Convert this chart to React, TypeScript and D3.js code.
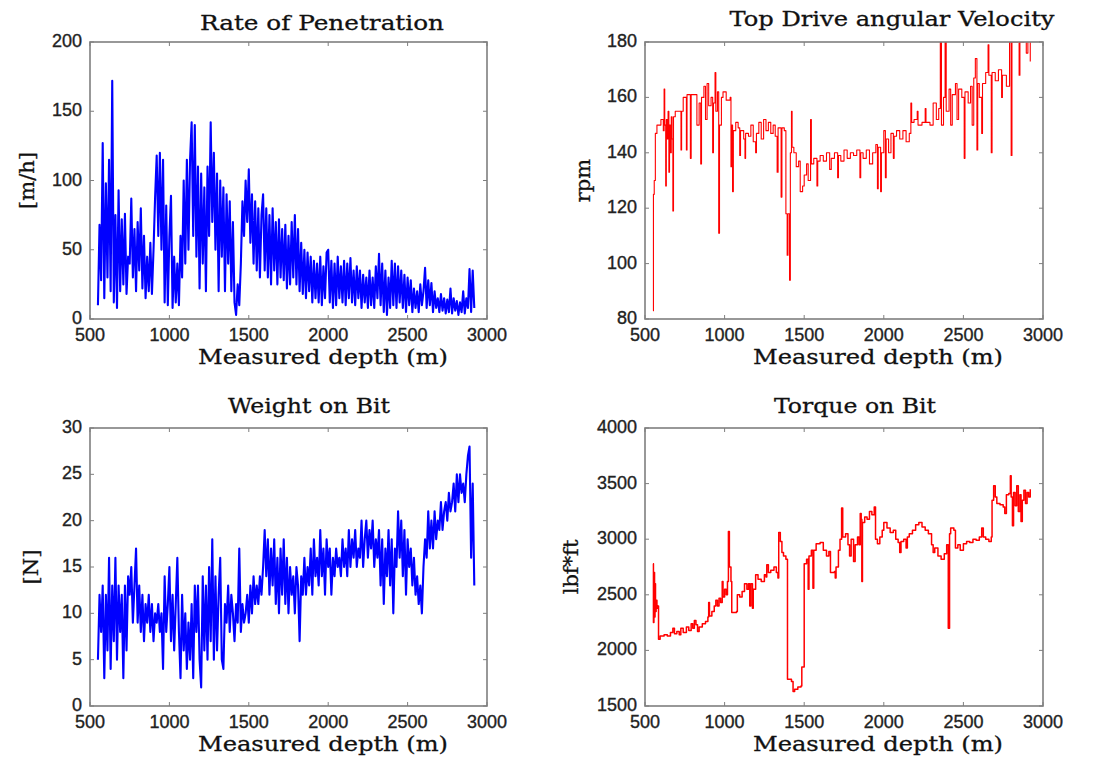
import React from 'react';
import * as d3 from 'd3';

const DEPTH_START = 550;
const DEPTH_STEP = 10;

// Rate of penetration [m/h], one value every 10 m from 550 m
const ropValues = [
  10, 68, 28, 127, 15, 98, 30, 115, 20, 172,
  12, 75, 8, 93, 20, 72, 25, 76, 18, 45,
  40, 87, 30, 65, 20, 70, 35, 80, 22, 60,
  15, 45, 20, 55, 18, 50, 88, 118, 60, 120,
  50, 115, 12, 82, 10, 60, 89, 8, 45, 12,
  40, 10, 60, 30, 100, 40, 115, 50, 115, 142,
  60, 140, 45, 110, 22, 105, 40, 95, 20, 110,
  60, 142, 70, 120, 50, 105, 20, 100, 45, 95,
  20, 90, 40, 85, 20, 70, 12, 3, 25, 10,
  40, 85, 60, 100, 70, 108, 55, 90, 40, 85,
  35, 80, 30, 75, 90, 35, 80, 30, 75, 25,
  80, 35, 70, 25, 72, 30, 65, 28, 68, 22,
  60, 25, 70, 30, 75, 25, 65, 20, 55, 18,
  50, 15, 48, 20, 45, 12, 42, 15, 40, 12,
  45, 10, 38, 15, 48, 50, 12, 42, 8, 40,
  10, 45, 15, 38, 12, 42, 10, 40, 15, 44,
  12, 35, 10, 38, 15, 35, 8, 32, 12, 30,
  8, 35, 10, 30, 8, 38, 15, 47, 10, 40,
  5, 35, 3, 30, 8, 42, 10, 40, 8, 38,
  12, 35, 8, 32, 5, 30, 10, 28, 5, 22,
  8, 20, 5, 25, 10, 20, 37, 8, 28, 10,
  26, 5, 20, 8, 15, 5, 18, 6, 15, 4,
  14, 5, 22, 4, 15, 6, 13, 3, 12, 5,
  20, 4, 15, 8, 36, 5, 35, 8,
];

// Weight on bit [N], one value every 10 m from 550 m
const wobValues = [
  5, 12, 8, 13, 3, 12, 6, 16, 4, 13,
  7, 16, 5, 13, 8, 12, 3, 13, 6, 14,
  12, 15, 9, 13, 17, 9, 13, 8, 12, 7,
  11, 9, 12, 8, 11, 7, 10, 9, 11, 8,
  10, 4, 14, 8, 11, 15, 7, 12, 6, 11,
  16, 8, 3, 12, 6, 10, 4, 9, 5, 11,
  3, 13, 8, 13, 5, 2, 14, 6, 13, 5,
  15, 7, 18, 5, 14, 6, 12, 16, 5, 4,
  11, 9, 13, 8, 12, 10, 7, 11, 9, 17,
  8, 11, 9, 10, 12, 9, 13, 10, 14, 11,
  13, 11, 14, 12, 15, 19, 14, 18, 12, 17,
  13, 18, 11, 16, 10, 17, 12, 18, 11, 16,
  10, 15, 12, 14, 10, 15, 13, 7, 14, 12,
  16, 12, 15, 13, 17, 12, 18, 14, 16, 13,
  19, 14, 17, 12, 18, 15, 17, 12, 16, 14,
  17, 15, 16, 14, 18, 15, 17, 14, 19, 15,
  18, 16, 19, 15, 17, 16, 20, 15, 18, 20,
  16, 19, 17, 20, 15, 18, 16, 19, 13, 18,
  11, 17, 14, 19, 13, 18, 10, 17, 15, 21,
  16, 20, 14, 19, 12, 18, 15, 17, 13, 16,
  12, 14, 11, 13, 10, 15, 18, 16, 21, 17,
  20, 17, 21, 18, 20, 19, 22, 19, 21, 22,
  20, 23, 21, 22, 24, 21, 25, 22, 25, 23,
  24, 22, 25, 27, 28, 16, 24, 13,
];

// Top drive angular velocity [rpm], [depth, value] steps
const rpmPoints: [number, number][] = [
  [550, 83], [553, 125], [558, 130], [565, 147], [575, 150], [600, 152], [615, 148], [620, 163],
  [624, 150], [630, 128], [634, 152], [640, 145], [645, 155], [650, 133], [654, 150], [660, 140],
  [665, 153], [670, 145], [675, 119], [679, 153], [690, 155], [720, 155], [726, 141], [730, 155],
  [740, 160], [760, 141], [764, 161], [785, 138], [790, 161], [820, 161], [826, 150], [840, 158],
  [850, 136], [855, 160], [870, 164], [880, 152], [890, 165], [900, 157], [915, 160], [925, 140],
  [930, 158], [940, 169], [945, 155], [955, 162], [963, 111], [968, 150], [980, 160], [990, 162],
  [1010, 159], [1035, 160], [1040, 135], [1045, 150], [1050, 126], [1055, 148], [1070, 151],
  [1085, 149], [1095, 139], [1100, 148], [1120, 145], [1128, 138], [1132, 147], [1150, 146],
  [1165, 150], [1180, 144], [1195, 140], [1200, 147], [1215, 151], [1230, 145], [1245, 152],
  [1260, 148], [1275, 151], [1290, 147], [1305, 150], [1318, 146], [1330, 133], [1336, 149],
  [1355, 124], [1360, 149], [1375, 148], [1385, 118], [1393, 103], [1398, 118], [1408, 94],
  [1413, 140], [1420, 155], [1424, 142], [1435, 140], [1450, 135], [1465, 137], [1475, 126],
  [1490, 128], [1500, 132], [1515, 136], [1525, 130], [1540, 152], [1545, 136], [1560, 138],
  [1580, 128], [1585, 137], [1600, 139], [1620, 137], [1640, 140], [1660, 134], [1670, 138],
  [1690, 140], [1710, 131], [1715, 139], [1730, 137], [1750, 141], [1770, 138], [1790, 140],
  [1810, 139], [1830, 141], [1850, 131], [1855, 140], [1870, 138], [1890, 141], [1910, 136],
  [1930, 140], [1950, 143], [1960, 127], [1965, 142], [1980, 126], [1985, 140], [2000, 148],
  [2010, 131], [2015, 145], [2030, 140], [2045, 147], [2060, 138], [2065, 146], [2080, 148],
  [2100, 145], [2120, 148], [2140, 144], [2160, 147], [2170, 158], [2175, 151], [2190, 152],
  [2210, 155], [2215, 150], [2240, 151], [2260, 156], [2265, 151], [2290, 150], [2310, 158],
  [2330, 152], [2345, 156], [2355, 180], [2362, 150], [2375, 160], [2385, 180], [2392, 155],
  [2410, 163], [2420, 150], [2430, 161], [2450, 165], [2460, 152], [2470, 163], [2490, 160],
  [2505, 138], [2510, 162], [2530, 158], [2545, 164], [2555, 150], [2565, 167], [2575, 174],
  [2585, 141], [2590, 165], [2600, 160], [2615, 147], [2620, 165], [2640, 169], [2655, 179],
  [2660, 168], [2675, 140], [2680, 169], [2700, 166], [2720, 170], [2740, 160], [2745, 168],
  [2770, 164], [2790, 180], [2800, 139], [2805, 180], [2840, 182], [2850, 168], [2855, 180],
  [2880, 185], [2895, 176], [2905, 182], [2920, 173],
];

// Torque on bit [lbf*ft], [depth, value] steps
const torquePoints: [number, number][] = [
  [550, 2780], [553, 2250], [556, 2700], [560, 2300], [563, 2600], [566, 2350], [570, 2450],
  [575, 2380], [580, 2400], [585, 2100], [595, 2130], [620, 2140], [640, 2130], [660, 2160],
  [675, 2200], [685, 2150], [700, 2170], [715, 2140], [725, 2200], [740, 2160], [760, 2210],
  [775, 2180], [790, 2240], [800, 2200], [810, 2270], [820, 2230], [830, 2170], [840, 2210],
  [860, 2240], [880, 2260], [895, 2300], [900, 2430], [905, 2310], [920, 2350], [935, 2400],
  [945, 2450], [955, 2400], [965, 2470], [975, 2430], [985, 2620], [990, 2480], [1000, 2550],
  [1010, 2500], [1018, 2620], [1024, 3070], [1030, 2750], [1040, 2620], [1045, 2340], [1075, 2350],
  [1080, 2500], [1095, 2480], [1110, 2530], [1125, 2600], [1140, 2550], [1150, 2600], [1158, 2400],
  [1165, 2600], [1175, 2380], [1180, 2550], [1195, 2680], [1210, 2640], [1230, 2620], [1250, 2680],
  [1260, 2660], [1265, 2770], [1275, 2700], [1290, 2720], [1310, 2750], [1325, 2700], [1335, 2650],
  [1340, 3060], [1350, 2980], [1360, 2880], [1370, 2850], [1385, 2820], [1395, 1740], [1420, 1720],
  [1430, 1630], [1440, 1650], [1460, 1670], [1480, 1680], [1485, 1850], [1500, 2780], [1515, 2820],
  [1525, 2550], [1530, 2850], [1545, 2900], [1555, 2560], [1560, 2900], [1575, 2960], [1600, 2970],
  [1620, 2900], [1640, 2850], [1655, 2890], [1665, 2700], [1690, 2710], [1695, 2650], [1700, 2750],
  [1715, 2900], [1725, 3000], [1735, 3280], [1742, 3020], [1760, 3050], [1775, 2950], [1785, 2850],
  [1795, 3000], [1810, 2800], [1820, 2950], [1835, 3020], [1845, 2950], [1852, 3230], [1858, 3180],
  [1862, 2620], [1866, 3150], [1880, 3200], [1895, 3180], [1910, 3250], [1925, 3220], [1940, 3290],
  [1948, 3000], [1960, 2960], [1975, 3020], [1990, 3080], [2000, 3150], [2020, 3100], [2040, 3060],
  [2060, 3080], [2075, 3000], [2090, 2970], [2100, 2880], [2108, 2980], [2125, 3000], [2140, 2920],
  [2148, 3020], [2160, 3050], [2180, 3080], [2200, 3130], [2220, 3150], [2240, 3110], [2260, 3080],
  [2280, 3050], [2300, 2950], [2310, 2880], [2320, 2920], [2340, 2850], [2360, 2820], [2380, 2870],
  [2395, 2950], [2405, 2200], [2413, 3050], [2420, 3100], [2440, 3080], [2450, 2920], [2465, 2950],
  [2480, 2900], [2500, 2960], [2520, 2980], [2540, 2970], [2560, 3000], [2580, 2990], [2600, 3020],
  [2615, 3100], [2625, 3020], [2640, 3000], [2660, 2980], [2675, 3020], [2680, 3350], [2690, 3480],
  [2700, 3380], [2710, 3320], [2730, 3310], [2750, 3290], [2760, 3230], [2770, 3400], [2785, 3410],
  [2795, 3570], [2800, 3380], [2808, 3120], [2815, 3420], [2825, 3300], [2835, 3480], [2845, 3250],
  [2855, 3400], [2862, 3160], [2870, 3350], [2880, 3440], [2890, 3320], [2900, 3420], [2910, 3380],
  [2920, 3450],
];

const depthTicks = [500, 1000, 1500, 2000, 2500, 3000];
const ropTicks = [0, 50, 100, 150, 200];
const rpmTicks = [80, 100, 120, 140, 160, 180];
const wobTicks = [0, 5, 10, 15, 20, 25, 30];
const torqueTicks = [1500, 2000, 2500, 3000, 3500, 4000];

const sampled = (vals: number[]): [number, number][] =>
  vals.map((v, i) => [DEPTH_START + i * DEPTH_STEP, v]);

const SERIF = '"DejaVu Serif", "Liberation Serif", serif';
const SANS = '"Liberation Sans", Arial, sans-serif';
const AXIS = '#7f7f7f';

type PanelProps = {
  id: string;
  x0: number; x1: number; y0: number; y1: number;
  yDomain: [number, number];
  yTicks: number[];
  points: [number, number][];
  color: string;
  lineWidth: number;
  step: boolean;
  title: string;
  titleX: number; titleDy: number; titleW: number;
  xlabelX: number;
  ylabel: string;
  ylabelX: number;
};

function Panel(p: PanelProps) {
  const x = d3.scaleLinear().domain([500, 3000]).range([p.x0, p.x1]);
  const y = d3.scaleLinear().domain(p.yDomain).range([p.y1, p.y0]);
  const line = d3.line<[number, number]>()
    .x(d => x(d[0]))
    .y(d => y(d[1]))
    .curve(p.step ? d3.curveStepAfter : d3.curveLinear);
  const cy = (p.y0 + p.y1) / 2;
  const tl = 4;

  return (
    <g>
      <defs>
        <clipPath id={p.id}>
          <rect x={p.x0} y={p.y0} width={p.x1 - p.x0} height={p.y1 - p.y0} />
        </clipPath>
      </defs>
      <path d={line(p.points) || ''} fill="none" stroke={p.color} strokeWidth={p.lineWidth}
        strokeLinejoin="round" clipPath={`url(#${p.id})`} />
      <rect x={p.x0} y={p.y0} width={p.x1 - p.x0} height={p.y1 - p.y0}
        fill="none" stroke={AXIS} strokeWidth={1.6} />
      {depthTicks.map(t => (
        <g key={'x' + t}>
          <line x1={x(t)} x2={x(t)} y1={p.y1} y2={p.y1 - tl} stroke={AXIS} />
          <line x1={x(t)} x2={x(t)} y1={p.y0} y2={p.y0 + tl} stroke={AXIS} />
          <text x={x(t)} y={p.y1 + 22} textAnchor="middle" fontFamily={SANS} fontSize={18}
            fill="#222" stroke="#222" strokeWidth={0.35}>{t}</text>
        </g>
      ))}
      {p.yTicks.map(t => (
        <g key={'y' + t}>
          <line x1={p.x0} x2={p.x0 + tl} y1={y(t)} y2={y(t)} stroke={AXIS} />
          <line x1={p.x1} x2={p.x1 - tl} y1={y(t)} y2={y(t)} stroke={AXIS} />
          <text x={p.x0 - 8} y={y(t) + 5} textAnchor="end" fontFamily={SANS} fontSize={18}
            fill="#222" stroke="#222" strokeWidth={0.35}>{t}</text>
        </g>
      ))}
      <text x={p.titleX} y={p.y0 + p.titleDy} textAnchor="middle" fontFamily={SERIF} fontSize={21}
        fill="#111" stroke="#111" strokeWidth={0.3}
        textLength={p.titleW} lengthAdjust="spacingAndGlyphs">{p.title}</text>
      <text x={p.xlabelX} y={p.y1 + 45} textAnchor="middle" fontFamily={SERIF} fontSize={21}
        fill="#111" stroke="#111" strokeWidth={0.3}
        textLength={250} lengthAdjust="spacingAndGlyphs">Measured depth (m)</text>
      <text transform={`translate(${p.ylabelX},${cy}) rotate(-90)`} textAnchor="middle"
        fontFamily={SERIF} fontSize={21} fill="#111" stroke="#111" strokeWidth={0.3}>{p.ylabel}</text>
    </g>
  );
}

export default function App() {
  const L = [90, 487];
  const R = [645, 1043];
  const T = [42, 319];
  const B = [428, 706];
  return (
    <svg width={1098} height={759} style={{ position: 'absolute', left: 0, top: 0, background: '#fff' }}>
      <Panel id="c1" x0={L[0]} x1={L[1]} y0={T[0]} y1={T[1]} yDomain={[0, 200]} yTicks={ropTicks}
        points={sampled(ropValues)} color="#0000ff" lineWidth={2.1} step={false}
        title="Rate of Penetration" titleX={322} titleDy={-12} titleW={244} xlabelX={323}
        ylabel="[m/h]" ylabelX={34} />
      <Panel id="c2" x0={R[0]} x1={R[1]} y0={T[0]} y1={T[1]} yDomain={[80, 180]} yTicks={rpmTicks}
        points={rpmPoints} color="#ff0000" lineWidth={1.1} step={true}
        title="Top Drive angular Velocity" titleX={892} titleDy={-16} titleW={325} xlabelX={878}
        ylabel="rpm" ylabelX={590} />
      <Panel id="c3" x0={L[0]} x1={L[1]} y0={B[0]} y1={B[1]} yDomain={[0, 30]} yTicks={wobTicks}
        points={sampled(wobValues)} color="#0000ff" lineWidth={2.1} step={false}
        title="Weight on Bit" titleX={309} titleDy={-15} titleW={162} xlabelX={323}
        ylabel="[N]" ylabelX={38} />
      <Panel id="c4" x0={R[0]} x1={R[1]} y0={B[0]} y1={B[1]} yDomain={[1500, 4000]} yTicks={torqueTicks}
        points={torquePoints} color="#ff0000" lineWidth={1.5} step={true}
        title="Torque on Bit" titleX={855} titleDy={-15} titleW={162} xlabelX={878}
        ylabel="lbf*ft" ylabelX={578} />
    </svg>
  );
}
